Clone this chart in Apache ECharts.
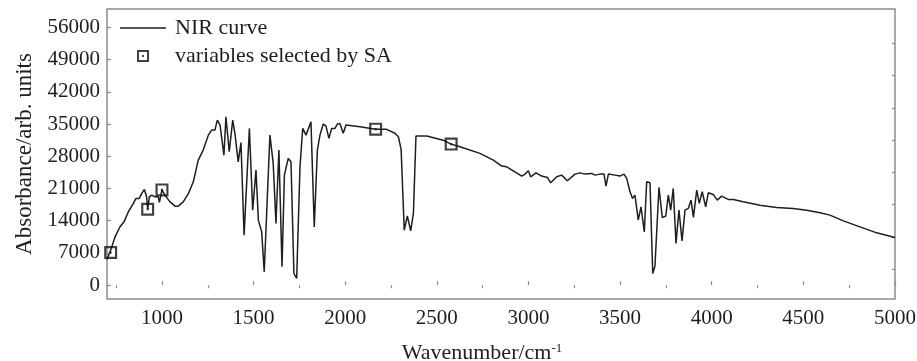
<!DOCTYPE html>
<html>
<head>
<meta charset="utf-8">
<title>NIR curve</title>
<script src="https://cdn.jsdelivr.net/npm/echarts@6/dist/echarts.min.js"></script>
<style>
  html, body { margin: 0; padding: 0; background: #fff; }
  #chart { width: 917px; height: 361px; }
</style>
</head>
<body>
<div id="chart"></div>
<script>
// wavenumber (cm-1) and absorbance
var wavenumber = [700, 715, 730, 744, 771, 793, 816, 844, 858, 876, 889, 904, 916, 922, 931, 944, 962, 980, 986, 1000,
  1016, 1044, 1071, 1089, 1116, 1144, 1171, 1198, 1225, 1253, 1271, 1289, 1302, 1317, 1338, 1349, 1367, 1386, 1398, 1416,
  1431, 1448, 1477, 1495, 1513, 1526, 1544, 1558, 1589, 1607, 1622, 1638, 1655, 1668, 1689, 1704, 1720, 1735, 1753, 1768,
  1786, 1813, 1831, 1848, 1862, 1880, 1895, 1911, 1926, 1944, 1957, 1971, 1989, 2004, 2080, 2166, 2226, 2271, 2290, 2305,
  2322, 2339, 2357, 2372, 2386, 2445, 2535, 2578, 2626, 2735, 2808, 2854, 2881, 2917, 2963, 2981, 2999, 3012, 3041, 3072,
  3103, 3121, 3154, 3181, 3212, 3254, 3281, 3308, 3345, 3363, 3390, 3412, 3423, 3436, 3472, 3499, 3521, 3536, 3554, 3568,
  3581, 3599, 3614, 3632, 3645, 3663, 3678, 3690, 3712, 3730, 3749, 3763, 3776, 3790, 3805, 3821, 3838, 3854, 3872, 3887,
  3900, 3918, 3932, 3948, 3967, 3981, 4008, 4030, 4054, 4090, 4118, 4172, 4263, 4354, 4445, 4518, 4591, 4645, 4718, 4809,
  4900, 5000];
var absorbance = [5600, 7100, 8800, 10500, 12700, 13760, 15900, 17760, 18850, 18850, 19900, 20800, 19200, 16500, 19200, 19560, 19200, 19200, 18000, 20700,
  19560, 18100, 17170, 17170, 18100, 19900, 22460, 27170, 29350, 32600, 33700, 33700, 35870, 34780, 28260, 36600, 29000, 35870, 33000, 26800,
  31000, 10870, 34060, 16300, 25000, 14130, 11590, 2900, 32600, 26460, 13400, 29350, 4000, 23900, 27540, 26800, 2540, 1460, 25700, 34060,
  32600, 35500, 12670, 29350, 32600, 35000, 34570, 31900, 34060, 34060, 35000, 35150, 33000, 34780, 34400, 33900, 33850, 33000, 32250, 29500,
  11960, 15070, 11800, 15590, 32400, 32400, 31500, 30650, 30070, 28630, 27170, 25870, 25720, 24850, 23700, 24130, 24850, 23550, 24400, 23700,
  23400, 22240, 23550, 23910, 22680, 24130, 24400, 24130, 24280, 23910, 24130, 24130, 21520, 24130, 23910, 23700, 24130, 23190, 20290, 18850,
  19560, 14130, 17020, 11590, 22460, 22240, 2540, 4130, 21240, 14720, 15000, 19560, 16300, 21020, 9060, 16300, 9630, 16300, 16670, 18480,
  14720, 20650, 17760, 20290, 17020, 20070, 19720, 18480, 19350, 18630, 18630, 18110, 17390, 16890, 16670, 16300, 15720, 15220, 13980, 12670,
  11370, 10370];

// variables selected by SA
var selectedWn = [720, 922, 1000, 2166, 2578];
var selectedAb = [7100, 16500, 20700, 33900, 30650];

// tick labels
var xTicks = [1000, 1500, 2000, 2500, 3000, 3500, 4000, 4500, 5000];
var xMinorTicks = [750, 1250, 1750, 2250, 2750, 3250, 3750, 4250, 4750];
var yTicks = [0, 7000, 14000, 21000, 28000, 35000, 42000, 49000, 56000];
var yMinorTicks = [3500, 10500, 17500, 24500, 31500, 38500, 45500, 52500];

var FONT = "'Liberation Serif', 'Times New Roman', serif";
var FRAME = '#8c8c8c';
var INK = '#1e1e1e';
var squareIcon = 'path://M0,0H12V12H0Z M2,2V10H10V2Z M5,5H7V7H5Z';
var lineIcon = 'path://M0,0H46V1.5H0Z';

function pairs(xs, ys) {
  return xs.map(function (x, i) { return [x, ys[i]]; });
}
function plain(v) { return String(v); }

var chart = echarts.init(document.getElementById('chart'), null, { renderer: 'canvas' });

chart.setOption({
  animation: false,
  backgroundColor: '#fff',
  textStyle: { fontFamily: FONT },
  grid: {
    left: 107, right: 22, top: 9, bottom: 62,
    outerBoundsMode: 'none',
    containLabel: false,
    show: true, borderColor: FRAME, borderWidth: 1.5, backgroundColor: 'transparent'
  },
  legend: {
    orient: 'vertical',
    left: 120, top: 17,
    padding: 0,
    itemGap: 6,
    itemWidth: 46,
    itemHeight: 12,
    textStyle: { fontFamily: FONT, fontSize: 22, color: INK, padding: [0, 0, 0, 4] },
    data: [
      { name: 'NIR curve', icon: lineIcon },
      { name: 'variables selected by SA', icon: squareIcon }
    ]
  },
  xAxis: [
    {
      type: 'value', min: 700, max: 5000,
      name: 'Wavenumber/cm{sup|-1}',
      nameLocation: 'middle', nameGap: 43,
      nameTextStyle: {
        fontFamily: FONT, fontSize: 22, color: INK, padding: [0, 38, 0, 0],
        rich: { sup: { fontFamily: FONT, fontSize: 13, color: INK, verticalAlign: 'top', lineHeight: 13 } }
      },
      axisLine: { show: false },
      splitLine: { show: false },
      axisTick: { inside: true, length: 4, customValues: xTicks, lineStyle: { color: FRAME, width: 1.2 } },
      axisLabel: { customValues: xTicks, formatter: plain, fontFamily: FONT, fontSize: 21, color: INK, margin: 9 }
    },
    {
      type: 'value', min: 700, max: 5000,
      axisLine: { show: false },
      splitLine: { show: false },
      axisLabel: { show: false },
      axisTick: { inside: true, length: 3, customValues: xMinorTicks, lineStyle: { color: FRAME, width: 1.2 } }
    }
  ],
  yAxis: [
    {
      type: 'value', min: -3000, max: 60000,
      name: 'Absorbance/arb. units',
      nameLocation: 'middle', nameGap: 58,
      nameTextStyle: { fontFamily: FONT, fontSize: 23, color: INK },
      axisLine: { show: false },
      splitLine: { show: false },
      axisTick: { inside: true, length: 4, customValues: yTicks, lineStyle: { color: FRAME, width: 1.2 } },
      axisLabel: { customValues: yTicks, formatter: plain, fontFamily: FONT, fontSize: 21, color: INK, margin: 7 }
    },
    {
      type: 'value', min: -3000, max: 60000,
      axisLine: { show: false },
      splitLine: { show: false },
      axisLabel: { show: false },
      axisTick: { inside: true, length: 3, customValues: yMinorTicks, lineStyle: { color: FRAME, width: 1.2 } }
    }
  ],
  series: [
    {
      name: 'NIR curve',
      type: 'line',
      data: pairs(wavenumber, absorbance),
      symbol: 'none',
      color: INK,
      lineStyle: { color: INK, width: 1.5 },
      z: 2
    },
    {
      name: 'variables selected by SA',
      type: 'scatter',
      data: pairs(selectedWn, selectedAb),
      symbol: squareIcon,
      symbolSize: 13,
      itemStyle: { color: '#111' },
      z: 3
    }
  ]
});
</script>
</body>
</html>
